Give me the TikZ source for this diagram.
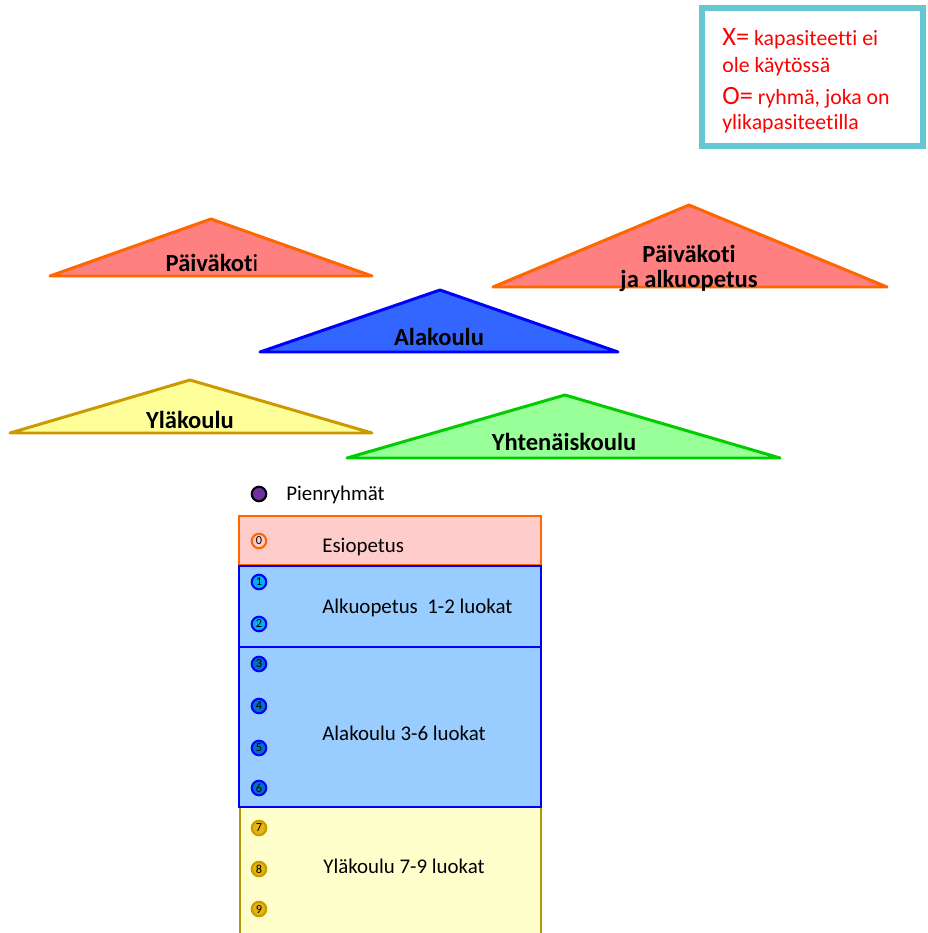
\documentclass[tikz,border=0pt]{standalone}
\usepackage{fontspec}
\setmainfont[Ligatures={NoCommon}]{Carlito}

\definecolor{legendBorder}{RGB}{102,199,211}
\definecolor{kotiFill}{RGB}{255,128,128}
\definecolor{kotiLine}{RGB}{255,102,0}
\definecolor{alaFill}{RGB}{51,102,255}
\definecolor{alaLine}{RGB}{0,0,255}
\definecolor{ylaFill}{RGB}{255,255,153}
\definecolor{ylaLine}{RGB}{204,153,0}
\definecolor{yhtFill}{RGB}{153,255,153}
\definecolor{yhtLine}{RGB}{0,204,0}
\definecolor{esiFill}{RGB}{255,204,204}
\definecolor{luokkaFill}{RGB}{153,204,255}
\definecolor{ylaBoxFill}{RGB}{255,255,204}
\definecolor{ylaBoxLine}{RGB}{184,150,11}
\definecolor{pienFill}{RGB}{112,48,160}
\definecolor{alkuNro}{RGB}{0,176,240}
\definecolor{alaNro}{RGB}{0,112,192}
\definecolor{ylaNro}{RGB}{228,180,20}

\tikzset{
  tri/.style={line width=1.7pt, line join=round},
  trilabel/.style={font=\fontsize{14}{16}\selectfont\bfseries, inner sep=0pt, anchor=base},
  luokka/.style={line width=1.4pt},
  boxtext/.style={font=\fontsize{11.9}{14}\selectfont, inner sep=0pt, anchor=base west},
  legendtext/.style={text=red, inner sep=0pt, anchor=base west, font=\fontsize{12.4}{14}\selectfont},
  nro/.style={circle, line width=1.2pt, minimum size=0.29cm, inner sep=0pt, font=\fontsize{7}{7}\selectfont}
}

\begin{document}
\begin{tikzpicture}[x=0.02cm, y=-0.02cm]
		%%%%% START %%%%%
		\useasboundingbox (0,0) rectangle (928,933);
		
		% selitys
		\draw[line width=3.4pt, color=legendBorder, fill=white] (702,8) rectangle (923,146);
		\node[legendtext] (selX) at (722,45) {{\fontsize{15}{17}\selectfont X=} kapasiteetti ei};
		\node[legendtext] (selX2) at (722,72) {ole käytössä};
		\node[legendtext] (selO) at (722,104) {{\fontsize{15}{17}\selectfont O=} ryhmä, joka on};
		\node[legendtext] (selO2) at (722,129) {ylikapasiteetilla};
		
		% kolmiot
		\draw[tri, fill=kotiFill, draw=kotiLine] (50,276) -- (211,219) -- (372,276) -- cycle;
		\node[trilabel] (paivakoti) at (212,271) {Päiväkot\mdseries i};
		
		\draw[tri, fill=kotiFill, draw=kotiLine] (493,287) -- (689,205) -- (887,287) -- cycle;
		\node[trilabel] (pkAlku1) at (689,262) {Päiväkoti};
		\node[trilabel] (pkAlku2) at (689,287) {ja alkuopetus};
		
		\draw[tri, fill=alaFill, draw=alaLine] (260,352) -- (440,290) -- (618,352) -- cycle;
		\node[trilabel] (alakoulu) at (439,345) {Alakoulu};
		
		\draw[tri, fill=ylaFill, draw=ylaLine] (10,433) -- (190,380) -- (372,433) -- cycle;
		\node[trilabel] (ylakoulu) at (190,428) {Yläkoulu};
		
		\draw[tri, fill=yhtFill, draw=yhtLine] (347,458) -- (565,395) -- (780,458) -- cycle;
		\node[trilabel] (yhtenais) at (564,450) {Yhtenäiskoulu};
		
		% pienryhmat
		\node[nro, draw=black, fill=pienFill] (pien) at (259,494) {};
		\node[boxtext] (pienText) at (286,500) {Pienryhmät};
		
		% luokat
		\draw[luokka, fill=ylaBoxFill, draw=ylaBoxLine] (240,940) -- (240,807) -- (541,807) -- (541,940);
		\draw[luokka, fill=esiFill, draw=kotiLine] (239,516) rectangle (541,565);
		\draw[luokka, fill=luokkaFill, draw=alaLine] (239,566) rectangle (541,647);
		\draw[luokka, fill=luokkaFill, draw=alaLine] (239,647) rectangle (541,807);
		
		\node[boxtext] (esiText) at (322,552) {Esiopetus};
		\node[boxtext] (alkuText) at (322,613) {Alkuopetus\ \ 1-2 luokat};
		\node[boxtext] (alaText) at (322,740) {Alakoulu 3-6 luokat};
		\node[boxtext] (ylaText) at (323,873) {Yläkoulu 7-9 luokat};
		
		\node[nro, draw=kotiLine, fill=kotiFill!40] (n0) at (259,541) {0};
		\foreach \n/\y in {1/582,2/624}
			\node[nro, draw=alaLine, fill=alkuNro] (n\n) at (259,\y) {\n};
		\foreach \n/\y in {3/664,4/706,5/748,6/788}
			\node[nro, draw=alaLine, fill=alaNro] (n\n) at (259,\y) {\n};
		\foreach \n/\y in {7/828,8/869,9/909}
			\node[nro, draw=ylaLine, fill=ylaNro] (n\n) at (259,\y) {\n};
		
		%%%%% END %%%%%
\end{tikzpicture}
\end{document}
